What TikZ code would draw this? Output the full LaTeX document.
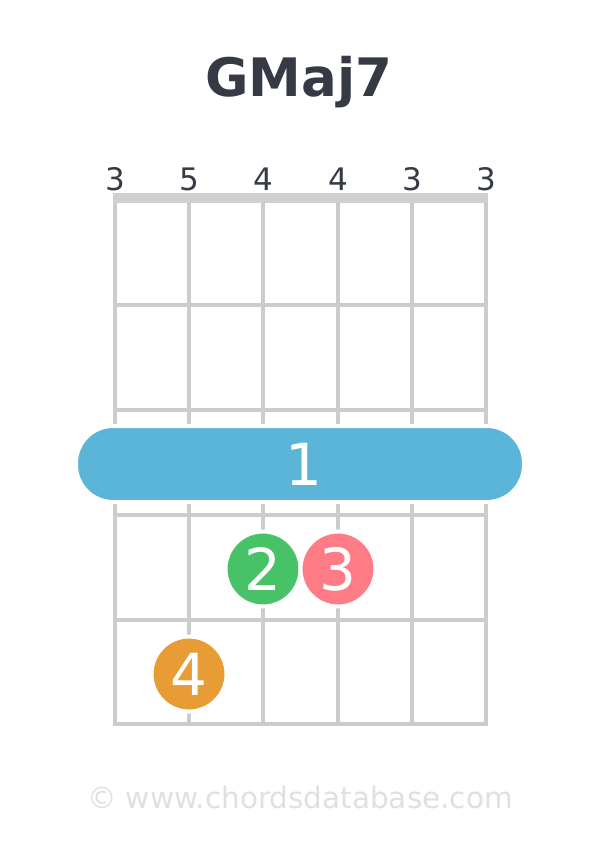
\documentclass[tikz,border=0pt]{standalone}
\usepackage{fontspec}
\setmainfont{DejaVu Sans}
\definecolor{gridgray}{HTML}{CCCCCC}
\definecolor{nutgray}{HTML}{D0D0D0}
\definecolor{titlecol}{HTML}{353A45}
\definecolor{barrecol}{HTML}{5BB5D8}
\definecolor{greencol}{HTML}{48C266}
\definecolor{pinkcol}{HTML}{FF7B85}
\definecolor{orangecol}{HTML}{E89C35}
\definecolor{footcol}{HTML}{E0E0E0}
\begin{document}
\begin{tikzpicture}[x=1pt,y=-1pt,
  gridline/.style={draw=gridgray,line width=4pt},
  fingerdot/.style={circle,minimum size=75pt,inner sep=0pt,draw=white,line width=4pt,text=white,font=\fontsize{58}{58}\selectfont},
  fretnum/.style={anchor=base,text=titlecol,font=\fontsize{31}{31}\selectfont,inner sep=0pt}]
\useasboundingbox (0,0) rectangle (600,848);
\fill[white] (0,0) rectangle (600,848);
% title
\node[anchor=base,text=titlecol,font=\bfseries\fontsize{53}{53}\selectfont,inner sep=0pt] (title) at (299,97) {GMaj7};
% fret numbers
\foreach \x/\n [count=\i] in {115/3,189/5,263/4,338/4,412/3,486/3}{
  \node[fretnum] (num\i) at (\x,190) {\n};
}
% strings
\foreach \x in {115,189,263,338,412,486}{
  \draw[gridline] (\x,200) -- (\x,726);
}
% frets
\foreach \y in {305,410,515,620,724}{
  \draw[gridline] (113,\y) -- (488,\y);
}
% nut
\fill[nutgray] (113,193) rectangle (488,203);
% barre
\node[draw=white,line width=4pt,fill=barrecol,rounded corners=37pt,minimum width=448pt,minimum height=76pt,inner sep=0pt] (barre) at (300,464) {};
\node[text=white,font=\fontsize{58}{58}\selectfont,inner sep=0pt] (barrelabel) at (304,464) {1};
% finger dots
\node[fingerdot,fill=greencol] (f2) at (263,569) {2};
\node[fingerdot,fill=pinkcol] (f3) at (338,569) {3};
\node[fingerdot,fill=orangecol] (f4) at (189,674) {4};
% footer
\node[anchor=base,text=footcol,font=\fontsize{29.5}{29.5}\selectfont,inner sep=0pt] (footer) at (300,808) {© www.chordsdatabase.com};
\end{tikzpicture}
\end{document}
